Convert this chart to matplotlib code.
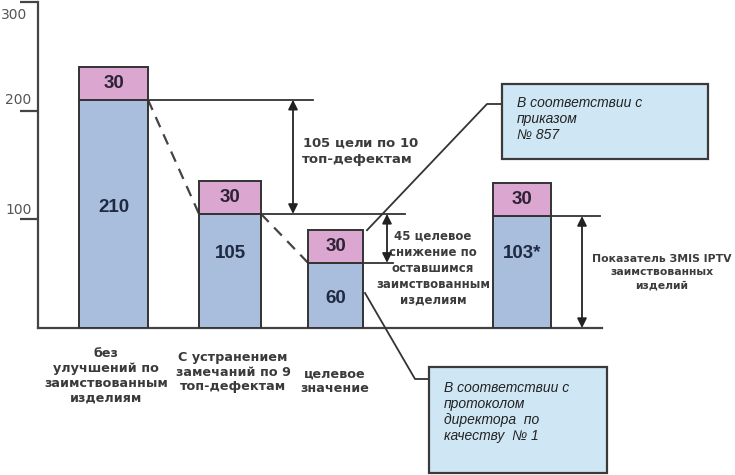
import matplotlib
matplotlib.use("Agg")
import matplotlib.pyplot as plt
from matplotlib.patches import Rectangle

# ---- data ----
categories = ["без\nулучшений по\nзаимствованным\nизделиям",
              "С устранением\nзамечаний по 9\nтоп-дефектам",
              "целевое\nзначение",
              ""]
base_values = [210, 105, 60, 103]
extra_values = [30, 30, 30, 30]
base_labels = ["210", "105", "60", "103*"]
extra_labels = ["30", "30", "30", "30"]
yticks = [100, 200, 300]
ytick_labels = ["100", "200", "300"]
note_top = "В соответствии с\nприказом\n№ 857"
note_bottom = "В соответствии с\nпротоколом\nдиректора  по\nкачеству  № 1"
ann1_num, ann1_txt = "105", " цели по 10\nтоп-дефектам"
ann2_txt = "45 целевое\nснижение по\nоставшимся\nзаимствованным\nизделиям"
ann3_txt = "Показатель ЗMIS IPTV\nзаимствованных\nизделий"

# ---- layout (pixel based) ----
W, H = 735, 475
Y0_PX, YTOP_PX = 328, 2
PX = (Y0_PX - YTOP_PX) / 300.0


def vy(py):
    return (Y0_PX - py) / PX


x_centers = [113.5, 230, 335.5, 522]
widths = [69, 62, 55, 58]
base_lab_frac = [0.53, 0.65, 0.45, 0.67]
guide_end = [313, 405, 393, 600]
blue = "#a9bedc"
pink = "#dba6cf"
edge = "#333333"
dark = "#1f2a44"

fig = plt.figure(figsize=(W / 100, H / 100), dpi=100)
ax = fig.add_axes([38 / W, (H - Y0_PX) / H, (W - 38) / W, (Y0_PX - YTOP_PX) / H])
ax.set_xlim(38, W)
ax.set_ylim(0, 300)
for s in ["top", "right", "bottom"]:
    ax.spines[s].set_visible(False)
ax.spines["left"].set_color("#444444")
ax.spines["left"].set_linewidth(1.6)
ax.set_xticks([])
ax.set_yticks(yticks)
ax.set_yticklabels([])
ax.tick_params(axis="y", length=13, width=1.6, color="#444444")

# tick labels (placed as in reference)
lab_px = [(19, 210), (18, 100), (14, 15)]
for (lx, ly), t in zip(lab_px, ytick_labels):
    fig.text(lx / W, 1 - ly / H, t, ha="center", va="center",
             fontsize=10, color="#555555", family="DejaVu Sans")

# baseline
ax.plot([38, 602], [0, 0], color="#444444", lw=1.6, clip_on=False, zorder=1)

# bars
ax.bar(x_centers, base_values, width=widths, color=blue, edgecolor=edge,
       linewidth=1.4, zorder=3)
ax.bar(x_centers, extra_values, width=widths, bottom=base_values, color=pink,
       edgecolor=edge, linewidth=1.4, zorder=3)

for i in range(4):
    ax.text(x_centers[i], base_values[i] * base_lab_frac[i], base_labels[i],
            ha="center", va="center", fontsize=13.5, fontweight="bold",
            color=dark, family="Liberation Sans", zorder=5)
    ax.text(x_centers[i], base_values[i] + extra_values[i] / 2, extra_labels[i],
            ha="center", va="center", fontsize=13.5, fontweight="bold",
            color="#2e2336", family="Liberation Sans", zorder=5)

# guide lines
for i in range(4):
    ax.plot([x_centers[i] + widths[i] / 2, guide_end[i]],
            [base_values[i], base_values[i]], color="#333333", lw=1.3, zorder=2)

# dashed connectors
for i in range(2):
    ax.plot([x_centers[i] + widths[i] / 2, x_centers[i + 1] - widths[i + 1] / 2],
            [base_values[i], base_values[i + 1]], color="#444444", lw=1.6,
            dashes=(5, 3.5), zorder=2)

# double arrows
arrow_kw = dict(arrowstyle="<|-|>", color="#222222", lw=1.3,
                mutation_scale=14, shrinkA=0, shrinkB=0)
arrows = [(293, base_values[0], base_values[1]),
          (387, base_values[1], base_values[2]),
          (582, base_values[3], 0)]
for x, y1, y2 in arrows:
    ax.annotate("", xy=(x, y1), xytext=(x, y2), arrowprops=arrow_kw, zorder=4)

ann_col = "#3c3c3c"
ax.text(302, vy(151), "$\\bf{" + ann1_num + "}$" + ann1_txt, ha="left",
        va="center", fontsize=9.5, fontweight="bold", color=ann_col,
        linespacing=1.25)
ax.text(433, vy(268), ann2_txt, ha="center", va="center", fontsize=8.5,
        color=ann_col, linespacing=1.3, fontweight="bold")
ax.text(662, vy(272), ann3_txt, ha="center", va="center", fontsize=7.8,
        color=ann_col, linespacing=1.4, fontweight="bold")

# category labels
cat_px = [(106, 376), (233, 372), (335, 381)]
for (cx, cy), t in zip(cat_px, categories[:3]):
    ax.text(cx, vy(cy), t, ha="center", va="center", fontsize=9.2,
            fontweight="bold", color="#3a3a3a", linespacing=1.18,
            clip_on=False)

# callout boxes
box_fill = "#cfe7f5"
r1 = Rectangle((502, vy(159)), 206, vy(84) - vy(159), facecolor=box_fill,
               edgecolor="#3a3a3a", lw=1.6, zorder=3, clip_on=False)
ax.add_patch(r1)
ax.text(517, vy(119), note_top, ha="left", va="center", fontsize=10,
        style="italic", family="Liberation Sans", color="#222222",
        linespacing=1.2, zorder=4)
ax.plot([x_centers[2] + widths[2] / 2 + 4, 487, 502],
        [base_values[2] + extra_values[2], vy(104), vy(104)],
        color="#333333", lw=1.3, zorder=2)

r2 = Rectangle((429, vy(473)), 178, vy(367) - vy(473), facecolor=box_fill,
               edgecolor="#3a3a3a", lw=1.6, zorder=3, clip_on=False)
ax.add_patch(r2)
ax.text(444, vy(412), note_bottom, ha="left", va="center", fontsize=10,
        style="italic", family="Liberation Sans", color="#222222",
        linespacing=1.2, zorder=4, clip_on=False)
ax.plot([x_centers[2] + widths[2] / 2 + 2, 415, 429],
        [vy(293), vy(379), vy(379)], color="#333333", lw=1.3, zorder=2,
        clip_on=False)

fig.savefig("out.png", dpi=100)
